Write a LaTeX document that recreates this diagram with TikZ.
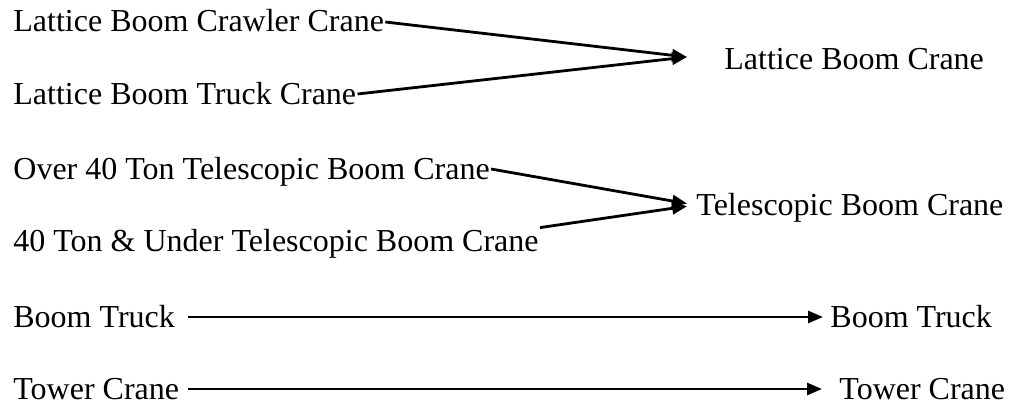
\documentclass[tikz,border=0pt]{standalone}
\usepackage{fontspec}
\setmainfont{Liberation Serif}
\usepackage{tikz}
\usetikzlibrary{arrows.meta}

\tikzset{
  lbl/.style={anchor=base west, inner sep=0pt, text height=11pt, text depth=1pt,
    font=\fontsize{16}{19}\selectfont},
  >={Triangle[length=7.5pt,width=6pt]}
}

\begin{document}
\begin{tikzpicture}[x=0.5pt,y=-0.5pt,line width=1.4pt]
      \useasboundingbox (0,0) rectangle (1016,407);
      % crane types
      \node[lbl] (lbcc) at (12,32)  {Lattice Boom Crawler Crane};
      \node[lbl] (lbtc) at (12,104) {Lattice Boom Truck Crane};
      \node[lbl] (otbc) at (12,179) {Over 40 Ton Telescopic Boom Crane};
      \node[lbl] (utbc) at (12,251) {40 Ton \& Under Telescopic Boom Crane};
      \node[lbl] (bt)   at (12,327) {Boom Truck};
      \node[lbl] (tc)   at (12,399) {Tower Crane};
      % groups
      \node[lbl] (lbc)   at (723,69)  {Lattice Boom Crane};
      \node[lbl] (tbc)   at (695,215) {Telescopic Boom Crane};
      \node[lbl] (btout) at (829,327) {Boom Truck};
      \node[lbl] (tcout) at (838,399) {Tower Crane};
      \coordinate (lbcin) at (687,57);
      % arrows
      \draw[->] (lbcc.east) -- (lbcin);
      \draw[->] (lbtc.east) -- (lbcin);
      \draw[->, shorten >=4pt] (otbc.east) -- (tbc.west);
      \draw[->, shorten >=4pt] (utbc.north east) -- (tbc.west);
      \draw[->, shorten <=6pt, shorten >=3pt] (bt.east) -- (btout.west);
      \draw[->, shorten <=4pt, shorten >=8pt] (tc.east) -- (tcout.west);
\end{tikzpicture}
\end{document}
